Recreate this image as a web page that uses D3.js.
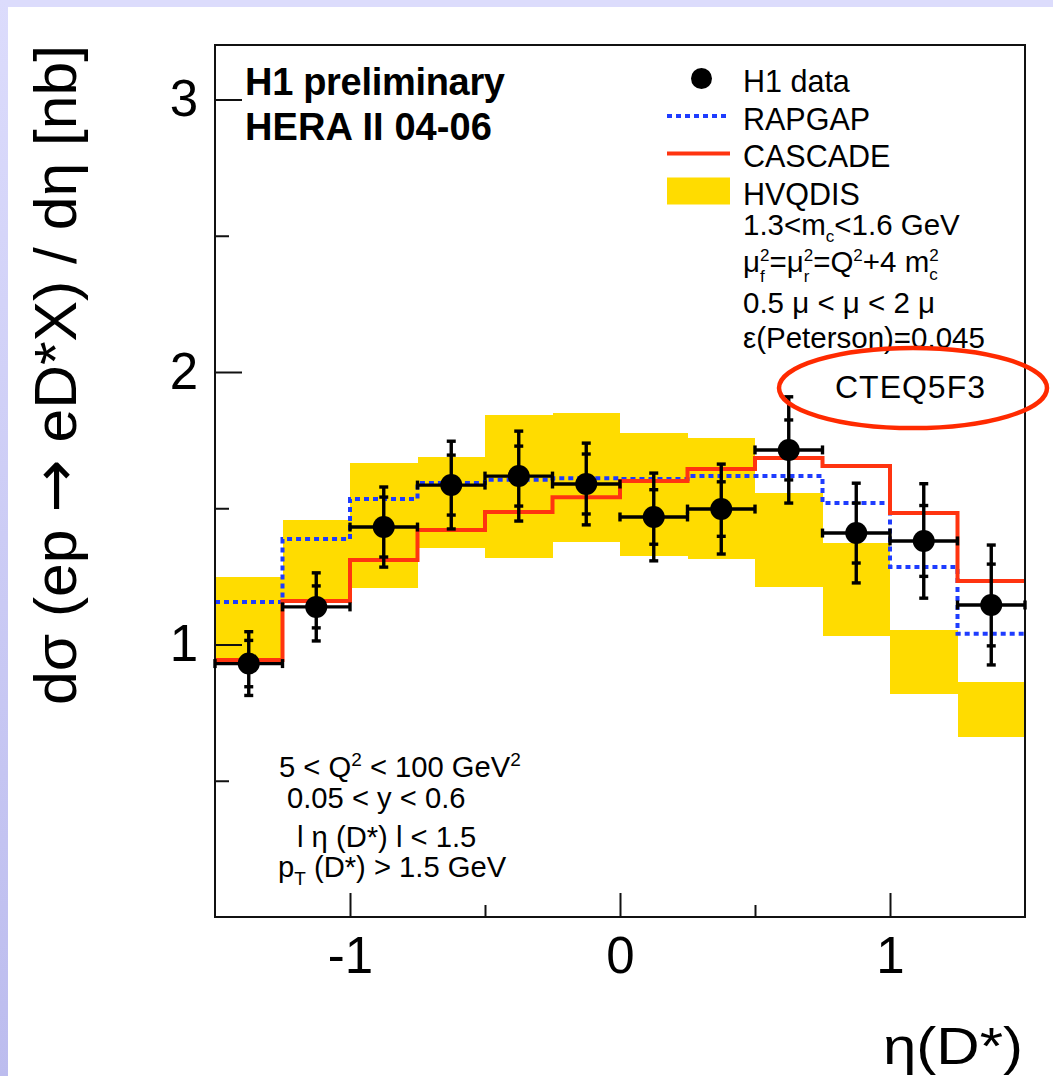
<!DOCTYPE html>
<html><head><meta charset="utf-8">
<script src="https://cdn.jsdelivr.net/npm/d3@7"></script>
<style>
html,body{margin:0;padding:0;background:#fff;}
svg text{font-family:"Liberation Sans",Arial,Helvetica,sans-serif;fill:#000;}
</style></head><body>
<svg id="c" width="1053" height="1076"></svg>
<script>
// ---- data ----
const binEdges = [-1.5,-1.25,-1,-0.75,-0.5,-0.25,0,0.25,0.5,0.75,1,1.25,1.5];
const h1Data   = [0.93, 1.138, 1.431, 1.585, 1.618, 1.589, 1.468, 1.497, 1.714, 1.409, 1.380, 1.145];
const statErr  = [0.085, 0.077, 0.11, 0.11, 0.11, 0.11, 0.10, 0.10, 0.11, 0.11, 0.13, 0.15];
const totErr   = [0.117, 0.125, 0.147, 0.161, 0.165, 0.15, 0.161, 0.165, 0.195, 0.183, 0.21, 0.22];
const rapgap   = [1.156, 1.387, 1.534, 1.593, 1.605, 1.61, 1.607, 1.618, 1.618, 1.519, 1.284, 1.039];
const cascade  = [0.943, 1.16, 1.31, 1.42, 1.486, 1.54, 1.60, 1.644, 1.684, 1.655, 1.483, 1.233];
const hvqdisLow  = [0.925, 1.152, 1.207, 1.354, 1.317, 1.376, 1.325, 1.314, 1.211, 1.031, 0.818, 0.661];
const hvqdisHigh = [1.248, 1.457, 1.666, 1.688, 1.842, 1.85, 1.776, 1.758, 1.556, 1.372, 1.053, 0.862];
const xTicks = [-1, 0, 1];
const xTickLabels = ["-1", "0", "1"];
const xMinorTicks = [-0.5, 0.5];
const yTicks = [1, 2, 3];
const yTickLabels = ["1", "2", "3"];
const yMinorTicks = [0.5, 1.5, 2.5];
const legendLabels = ["H1 data", "RAPGAP", "CASCADE", "HVQDIS"];

const C_YELLOW = "#ffdc00", C_BLUE = "#1e3cff", C_RED = "#ff3410";

const svg = d3.select("#c");
const defs = svg.append("defs");
const grad = defs.append("linearGradient").attr("id","side").attr("x1",0).attr("y1",0).attr("x2",0).attr("y2",1);
grad.append("stop").attr("offset","0%").attr("stop-color","#dcdcfc");
grad.append("stop").attr("offset","100%").attr("stop-color","#bcbcee");
svg.append("rect").attr("x",0).attr("y",0).attr("width",1053).attr("height",7).attr("fill","#dcdcfc");
svg.append("rect").attr("x",0).attr("y",0).attr("width",8).attr("height",1076).attr("fill","url(#side)");

const x = d3.scaleLinear().domain([-1.5, 1.5]).range([215, 1025]);
const y = d3.scaleLinear().domain([0, 3.2]).range([917, 45]);

const bins = h1Data.map((v,i)=>({x0:binEdges[i], x1:binEdges[i+1], xc:(binEdges[i]+binEdges[i+1])/2,
  v, stat:statErr[i], tot:totErr[i], lo:hvqdisLow[i], hi:hvqdisHigh[i]}));

// HVQDIS band
svg.append("g").selectAll("rect").data(bins).join("rect")
  .attr("x", d=>x(d.x0)).attr("width", d=>x(d.x1)-x(d.x0))
  .attr("y", d=>y(d.hi)).attr("height", d=>y(d.lo)-y(d.hi))
  .attr("fill", C_YELLOW).attr("shape-rendering","crispEdges");

function stepPts(vals){ const p=[]; vals.forEach((v,i)=>{p.push([binEdges[i],v]); p.push([binEdges[i+1],v]);}); return p; }
const line = d3.line().x(d=>x(d[0])).y(d=>y(d[1]));

svg.append("path").attr("d", line(stepPts(rapgap))).attr("fill","none")
  .attr("stroke", C_BLUE).attr("stroke-width",4).attr("stroke-dasharray","5,4");
svg.append("path").attr("d", line(stepPts(cascade))).attr("fill","none")
  .attr("stroke", C_RED).attr("stroke-width",4);

// axes
const xAxis = svg.append("g").attr("transform","translate(0,917)")
  .call(d3.axisBottom(x).tickValues(xTicks).tickFormat((d,i)=>xTickLabels[i]).tickSizeInner(-24).tickSizeOuter(0).tickPadding(20));
const xMinor = svg.append("g").attr("transform","translate(0,917)")
  .call(d3.axisBottom(x).tickValues(xMinorTicks).tickFormat("").tickSizeInner(-12).tickSizeOuter(0));
const yAxis = svg.append("g").attr("transform","translate(215,0)")
  .call(d3.axisLeft(y).tickValues(yTicks).tickFormat((d,i)=>yTickLabels[i]).tickSizeInner(-27).tickSizeOuter(0).tickPadding(17));
const yMinor = svg.append("g").attr("transform","translate(215,0)")
  .call(d3.axisLeft(y).tickValues(yMinorTicks).tickFormat("").tickSizeInner(-14).tickSizeOuter(0));
[xAxis,xMinor,yAxis,yMinor].forEach(g=>{
  g.select(".domain").remove();
  g.selectAll(".tick line").attr("stroke","#111").attr("stroke-width",2);
  g.selectAll(".tick text").attr("font-family","Liberation Sans, Arial, sans-serif").attr("font-size",51).attr("fill","#000");
});

// frame
svg.append("rect").attr("x",x(-1.5)).attr("y",y(3.2)).attr("width",x(1.5)-x(-1.5)).attr("height",y(0)-y(3.2))
  .attr("fill","none").attr("stroke","#111").attr("stroke-width",2);

// data points
const pts = svg.append("g").attr("stroke","#000").attr("stroke-width",3.4);
const cap = 4.5;
bins.forEach(d=>{
  const cx = x(d.xc), cy = y(d.v);
  pts.append("line").attr("x1",x(d.x0)).attr("x2",x(d.x1)).attr("y1",cy).attr("y2",cy);
  pts.append("line").attr("x1",x(d.x0)).attr("x2",x(d.x0)).attr("y1",cy-cap).attr("y2",cy+cap);
  pts.append("line").attr("x1",x(d.x1)).attr("x2",x(d.x1)).attr("y1",cy-cap).attr("y2",cy+cap);
  pts.append("line").attr("x1",cx).attr("x2",cx).attr("y1",y(d.v+d.tot)).attr("y2",y(d.v-d.tot));
  [d.v+d.tot, d.v-d.tot, d.v+d.stat, d.v-d.stat].forEach(e=>{
    pts.append("line").attr("x1",cx-cap).attr("x2",cx+cap).attr("y1",y(e)).attr("y2",y(e));
  });
});
svg.append("g").selectAll("circle").data(bins).join("circle")
  .attr("cx", d=>x(d.xc)).attr("cy", d=>y(d.v)).attr("r",11).attr("fill","#000");

// title
svg.append("text").attr("x",245).attr("y",95).attr("font-size",38).attr("font-weight","bold").attr("textLength",260).text("H1 preliminary");
svg.append("text").attr("x",245).attr("y",140).attr("font-size",38).attr("font-weight","bold").attr("textLength",247).text("HERA II 04-06");

// legend
const legX = 743, legY0 = 92, legDY = 37.5, symX0 = 667, symX1 = 730;
const leg = svg.append("g");
legendLabels.forEach((lab,i)=>{
  const by = legY0 + i*legDY, sy = by - 13.5;
  if (i===0) leg.append("circle").attr("cx",(symX0+symX1)/2 + 3).attr("cy",sy).attr("r",10.5).attr("fill","#000");
  if (i===1) leg.append("line").attr("x1",symX0).attr("x2",symX1).attr("y1",sy).attr("y2",sy).attr("stroke",C_BLUE).attr("stroke-width",4).attr("stroke-dasharray","5,4");
  if (i===2) leg.append("line").attr("x1",symX0).attr("x2",symX1).attr("y1",sy).attr("y2",sy).attr("stroke",C_RED).attr("stroke-width",4);
  if (i===3) leg.append("rect").attr("x",symX0).attr("y",sy-13.5).attr("width",symX1-symX0).attr("height",27).attr("fill",C_YELLOW);
  leg.append("text").attr("x",legX).attr("y",by).attr("font-size",30.5).text(lab);
});

// text measuring helper (removed after use)
const meas = svg.append("text").attr("x",100).attr("y",100).attr("visibility","hidden");
function tw(txt, sz){ meas.attr("font-size",sz).text(txt); return meas.node().getComputedTextLength(); }

// rich text: parts = {t, shift(+down px), size, under(bool: stack below previous part)}
function rich(xp, yp, size, parts){
  const t = svg.append("text").attr("x",xp).attr("y",yp).attr("font-size",size);
  let cur = 0, pendingDx = 0, prevW = 0;
  parts.forEach(p=>{
    const sz = p.size || size, shift = p.shift || 0;
    const w = tw(p.t, sz);
    const ts = t.append("tspan").attr("dy", shift-cur).attr("font-size", sz).text(p.t);
    let dx = 0;
    if (p.under) { dx = -prevW; pendingDx = Math.max(0, prevW - w); }
    else { dx = pendingDx; pendingDx = 0; }
    if (dx) ts.attr("dx", dx);
    cur = shift; prevW = w;
  });
  return t;
}
const LS = 29.5, ss = 17;
rich(legX, 235, LS, [{t:"1.3<m"},{t:"c",shift:7,size:ss},{t:"<1.6 GeV"}]);
rich(legX, 272, LS, [{t:"μ"},{t:"2",shift:-11,size:ss},{t:"f",shift:10,size:ss,under:true},{t:"=μ"},{t:"2",shift:-11,size:ss},{t:"r",shift:10,size:ss,under:true},
  {t:"=Q"},{t:"2",shift:-11,size:ss},{t:"+4 m"},{t:"2",shift:-11,size:ss},{t:"c",shift:8,size:ss,under:true}]);
rich(legX, 313, LS, [{t:"0.5 μ < μ < 2 μ"}]);
rich(legX, 348, LS, [{t:"ε(Peterson)=0.045"}]);

// cuts text
const CS = 29.2;
rich(279, 777, CS, [{t:"5 < Q"},{t:"2",shift:-11,size:19},{t:" < 100 GeV"},{t:"2",shift:-11,size:19}]);
rich(287, 808, CS, [{t:"0.05 < y < 0.6"}]);
rich(297, 847, CS, [{t:"l η (D*) l < 1.5"}]);
rich(278, 877, CS, [{t:"p"},{t:"T",shift:8,size:19},{t:" (D*) > 1.5 GeV"}]);
meas.remove();

// CTEQ ellipse
svg.append("ellipse").attr("cx",913).attr("cy",388).attr("rx",134).attr("ry",40)
  .attr("fill","none").attr("stroke","#ff2a00").attr("stroke-width",4.5);
svg.append("text").attr("x",910).attr("y",398).attr("text-anchor","middle").attr("font-family","Lato, 'Open Sans', sans-serif")
  .attr("font-size",32).attr("textLength",150).text("CTEQ5F3");

// axis titles
const yt = svg.append("text").attr("transform","translate(76,45) rotate(-90)").attr("text-anchor","end")
  .attr("font-size",59).attr("textLength",660).attr("lengthAdjust","spacingAndGlyphs");
yt.append("tspan").text("dσ (ep ");
yt.append("tspan").attr("font-family","DejaVu Sans, sans-serif").attr("font-size",62).text("→");
yt.append("tspan").text(" eD*X) / dη [nb]");
svg.append("text").attr("x",1023).attr("y",1064).attr("text-anchor","end").attr("font-size",52)
  .attr("textLength",140).attr("lengthAdjust","spacingAndGlyphs").text("η(D*)");
</script>
</body></html>
